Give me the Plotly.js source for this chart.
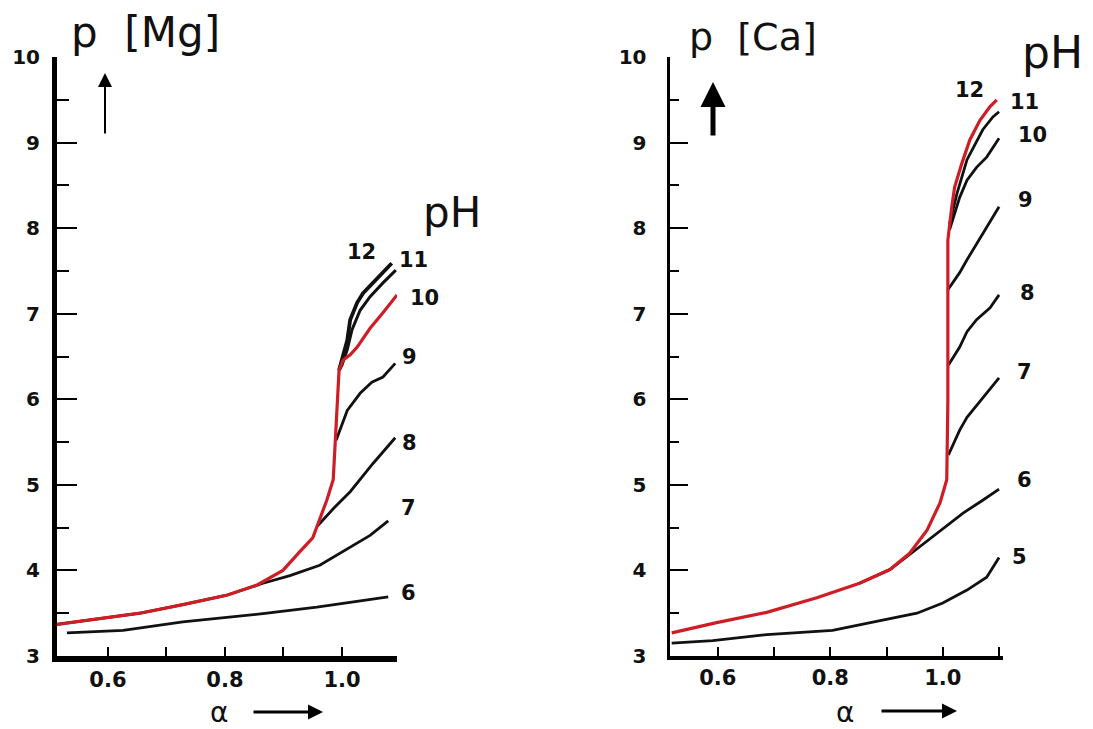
<!DOCTYPE html>
<html>
<head>
<meta charset="utf-8">
<script src="https://cdn.plot.ly/plotly-3.0.1.min.js"></script>
<style>html,body{margin:0;padding:0;background:#fff;}#chart{width:1093px;height:729px;}</style>
</head>
<body>
<div id="chart"></div>
<script>
// ---------- Mg panel (left) ----------
const mgAlpha_pH6 = [0.530, 0.626, 0.728, 0.872, 0.957, 1.079];
const mgP_pH6     = [3.27, 3.30, 3.40, 3.50, 3.57, 3.69];
const mgAlpha_pH7 = [0.513, 0.586, 0.655, 0.728, 0.803, 0.865, 0.911, 0.962, 1.014, 1.048, 1.079];
const mgP_pH7     = [3.37, 3.44, 3.50, 3.60, 3.71, 3.85, 3.94, 4.06, 4.27, 4.41, 4.58];
const mgAlpha_pH8 = [0.958, 0.985, 1.014, 1.053, 1.091];
const mgP_pH8     = [4.52, 4.72, 4.92, 5.25, 5.55];
const mgAlpha_pH9 = [0.990, 1.000, 1.009, 1.031, 1.051, 1.070, 1.091];
const mgP_pH9     = [5.52, 5.70, 5.87, 6.07, 6.20, 6.26, 6.42];
const mgAlpha_pH10 = [0.513, 0.586, 0.655, 0.728, 0.803, 0.855, 0.899, 0.928, 0.950, 0.974, 0.985, 0.988, 0.993, 0.995, 1.002, 1.014, 1.026, 1.048, 1.070, 1.094];
const mgP_pH10     = [3.37, 3.44, 3.50, 3.60, 3.71, 3.83, 4.00, 4.22, 4.38, 4.82, 5.06, 5.44, 6.03, 6.34, 6.46, 6.52, 6.61, 6.83, 7.01, 7.22];
const mgAlpha_pH11 = [0.995, 1.000, 1.009, 1.017, 1.031, 1.048, 1.070, 1.092];
const mgP_pH11     = [6.34, 6.40, 6.58, 6.81, 7.04, 7.20, 7.36, 7.51];
const mgAlpha_pH12 = [0.995, 1.000, 1.009, 1.014, 1.026, 1.036, 1.053, 1.070, 1.085];
const mgP_pH12     = [6.34, 6.46, 6.69, 6.93, 7.13, 7.24, 7.36, 7.48, 7.59];

// ---------- Ca panel (right) ----------
const caAlpha_pH5 = [0.518, 0.591, 0.687, 0.804, 0.893, 0.954, 1.000, 1.043, 1.078, 1.100];
const caP_pH5     = [3.15, 3.18, 3.25, 3.30, 3.42, 3.50, 3.62, 3.77, 3.92, 4.15];
const caAlpha_pH6 = [0.852, 0.906, 0.936, 0.982, 1.036, 1.071, 1.100];
const caP_pH6     = [3.85, 4.01, 4.16, 4.39, 4.67, 4.82, 4.95];
const caAlpha_pH7 = [1.010, 1.030, 1.043, 1.078, 1.100];
const caP_pH7     = [5.35, 5.64, 5.79, 6.07, 6.25];
const caAlpha_pH8 = [1.010, 1.030, 1.043, 1.060, 1.084, 1.100];
const caP_pH8     = [6.40, 6.61, 6.79, 6.93, 7.07, 7.22];
const caAlpha_pH9 = [1.009, 1.030, 1.043, 1.071, 1.100];
const caP_pH9     = [7.28, 7.48, 7.63, 7.94, 8.25];
const caAlpha_pH10 = [1.012, 1.030, 1.043, 1.060, 1.078, 1.100];
const caP_pH10     = [7.98, 8.36, 8.56, 8.71, 8.83, 9.05];
const caAlpha_pH11 = [1.012, 1.025, 1.043, 1.071, 1.089, 1.100];
const caP_pH11     = [8.05, 8.40, 8.80, 9.15, 9.30, 9.36];
const caAlpha_pH12 = [0.518, 0.598, 0.687, 0.776, 0.852, 0.906, 0.941, 0.972, 0.995, 1.007, 1.009, 1.009, 1.009, 1.016, 1.021, 1.034, 1.048, 1.066, 1.084, 1.096];
const caP_pH12     = [3.27, 3.39, 3.51, 3.68, 3.85, 4.01, 4.20, 4.47, 4.79, 5.06, 5.99, 7.16, 7.86, 8.25, 8.48, 8.76, 9.03, 9.26, 9.42, 9.50];

// ---------- tick labels ----------
const xTickVals = [0.6, 0.7, 0.8, 0.9, 1.0, 1.1];
const xTickText = ['0.6', '', '0.8', '', '1.0', ''];
const yTickVals = [3, 4, 5, 6, 7, 8, 9, 10];
const yTickText = ['3', '4', '5', '6', '7', '8', '9', '10'];

const BLACK = '#111111';
const RED = '#cf1d25';

function line(x, y, color, width, xa, ya) {
  return { x: x, y: y, mode: 'lines', type: 'scatter', xaxis: xa, yaxis: ya,
           line: { color: color, width: width, shape: 'linear' }, hoverinfo: 'skip', showlegend: false };
}

const traces = [
  line(mgAlpha_pH6, mgP_pH6, BLACK, 2.8, 'x', 'y'),
  line(mgAlpha_pH7, mgP_pH7, BLACK, 2.8, 'x', 'y'),
  line(mgAlpha_pH8, mgP_pH8, BLACK, 2.8, 'x', 'y'),
  line(mgAlpha_pH9, mgP_pH9, BLACK, 2.8, 'x', 'y'),
  line(mgAlpha_pH11, mgP_pH11, BLACK, 3, 'x', 'y'),
  line(mgAlpha_pH12, mgP_pH12, BLACK, 3.8, 'x', 'y'),
  line(mgAlpha_pH10, mgP_pH10, RED, 3.2, 'x', 'y'),
  line(caAlpha_pH5, caP_pH5, BLACK, 2.8, 'x2', 'y2'),
  line(caAlpha_pH6, caP_pH6, BLACK, 2.8, 'x2', 'y2'),
  line(caAlpha_pH7, caP_pH7, BLACK, 2.8, 'x2', 'y2'),
  line(caAlpha_pH8, caP_pH8, BLACK, 2.8, 'x2', 'y2'),
  line(caAlpha_pH9, caP_pH9, BLACK, 2.8, 'x2', 'y2'),
  line(caAlpha_pH10, caP_pH10, BLACK, 2.8, 'x2', 'y2'),
  line(caAlpha_pH11, caP_pH11, BLACK, 2.8, 'x2', 'y2'),
  line(caAlpha_pH12, caP_pH12, RED, 3.2, 'x2', 'y2')
];

const W = 1093, TOP = 57, BOT = 656, PH = BOT - TOP;
function px(x) { return x / W; }
function py(y) { return (BOT - y) / PH; }

function xAxis(domain, range, lw) {
  return { domain: domain, range: range, showgrid: false, zeroline: false,
           showline: true, linecolor: '#000', linewidth: lw,
           tickmode: 'array', tickvals: xTickVals, ticktext: xTickText,
           ticks: 'inside', ticklen: 9, tickwidth: 2, tickcolor: '#000',
           tickfont: { family: 'DejaVu Sans', size: 21, color: '#111', weight: 'bold' },
           ticklabelstandoff: 0, fixedrange: true };
}
function yAxis(anchor, lw, standoff, major, minor) {
  return { anchor: anchor, domain: [0, 1], range: [3, 10], showgrid: false, zeroline: false,
           showline: true, linecolor: '#000', linewidth: lw,
           tickmode: 'array', tickvals: yTickVals, ticktext: yTickText,
           ticks: 'inside', ticklen: major, tickwidth: 2, tickcolor: '#000',
           minor: { dtick: 0.5, tick0: 3, ticks: 'inside', ticklen: minor, tickwidth: 2, tickcolor: '#000' },
           tickfont: { family: 'DejaVu Sans', size: 20, color: '#111', weight: 'bold' },
           ticklabelstandoff: standoff, fixedrange: true };
}

const lblFont = { family: 'DejaVu Sans', size: 21, color: '#111', weight: 'bold' };
function lbl(text, x, y) {
  return { text: text, xref: 'paper', yref: 'paper', x: px(x), y: py(y), showarrow: false,
           xanchor: 'center', yanchor: 'middle', font: lblFont };
}
function big(text, x, y, size) {
  return { text: text, xref: 'paper', yref: 'paper', x: px(x), y: py(y), showarrow: false,
           xanchor: 'center', yanchor: 'middle', font: { family: 'DejaVu Sans', size: size, color: '#111' } };
}
function arrow(x, y, ax, ay, w, size) {
  return { text: '', xref: 'paper', yref: 'paper', x: px(x), y: py(y), ax: ax, ay: ay,
           showarrow: true, arrowhead: 2, arrowsize: size, arrowwidth: w, arrowcolor: '#000' };
}
function alpha(x, y) {
  return { text: '\u03b1', xref: 'paper', yref: 'paper', x: px(x), y: py(y), showarrow: false,
           xanchor: 'center', yanchor: 'middle', font: { family: 'DejaVu Sans', size: 28, color: '#111' } };
}

const annotations = [
  big('p\u00a0 [Mg]', 145, 33, 42),
  big('p\u00a0 [Ca]', 753, 37, 38),
  big('pH', 452, 213, 42),
  big('pH', 1052, 52, 44),
  // curve labels, Mg panel
  lbl('12', 361, 252), lbl('11', 413, 260), lbl('10', 424, 298), lbl('9', 409, 357),
  lbl('8', 409, 443), lbl('7', 408, 508), lbl('6', 408, 593),
  // curve labels, Ca panel
  lbl('12', 969, 90), lbl('11', 1024, 102), lbl('10', 1032, 135), lbl('9', 1025, 200),
  lbl('8', 1027, 293), lbl('7', 1024, 372), lbl('6', 1024, 480), lbl('5', 1019, 557),
  // vertical arrows
  arrow(105, 73, 0, 62, 2, 1.4),
  arrow(713, 82, 0, 55, 5, 1),
  // alpha + arrows
  alpha(219, 712),
  arrow(323, 712, -71, 0, 3, 1),
  alpha(845, 712),
  arrow(957, 711, -77, 0, 3, 1)
];

const layout = {
  width: 1093, height: 729,
  margin: { l: 0, r: 0, t: TOP, b: 729 - BOT, pad: 0 },
  paper_bgcolor: '#fff', plot_bgcolor: '#fff',
  showlegend: false,
  xaxis: Object.assign(xAxis([57 / W, 397 / W], [0.513, 1.094], 6), { anchor: 'y' }),
  yaxis: yAxis('x', 5, 8, 20, 12),
  xaxis2: Object.assign(xAxis([670 / W, 1003 / W], [0.515, 1.107], 4), { anchor: 'y2' }),
  yaxis2: yAxis('x2', 3.5, 16, 18, 9),
  annotations: annotations
};

Plotly.newPlot('chart', traces, layout, { displayModeBar: false, staticPlot: true });
</script>
</body>
</html>
